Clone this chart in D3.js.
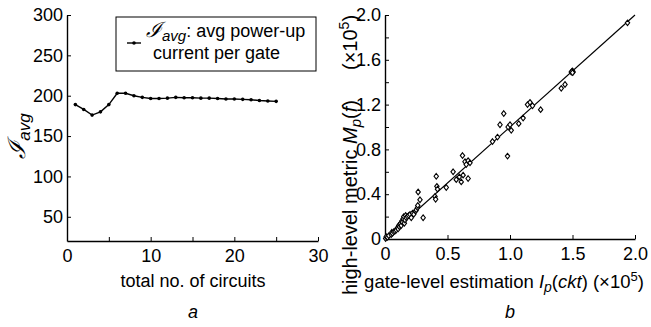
<!DOCTYPE html>
<html>
<head>
<meta charset="utf-8">
<script src="https://cdn.jsdelivr.net/npm/d3@7"></script>
<style>
body { margin: 0; background: #fff; }
text { font-family: "Liberation Sans", Arial, sans-serif; fill: #000; }
</style>
</head>
<body>
<div id="chart"></div>
<script>
// panel a: average power-up current per gate vs number of circuits
const circuits = [1,2,3,4,5,6,7,8,9,10,11,12,13,14,15,16,17,18,19,20,21,22,23,24,25];
const iavg = [189,183,176,180,189,203,203,200,198,196.5,196.5,197,198,197.5,197.5,197,197,196.5,196,196,195.5,195,194,193.5,193];
const xTicksA = [0,5,10,15,20,25,30];
const yTicksA = [50,100,150,200,250,300];

// panel b: high-level metric vs gate-level estimation (x1e5)
const gateEst = [0.005,0.01,0.02,0.03,0.05,0.055,0.06,0.07,0.08,0.09,0.1,0.105,0.11,0.115,0.12,0.125,0.13,0.135,0.14,0.145,
  0.15,0.155,0.16,0.165,0.17,0.18,0.19,0.2,0.21,0.22,0.23,0.245,0.25,0.26,0.262,0.265,0.28,0.305,
  0.4,0.405,0.41,0.415,0.42,0.49,0.545,0.57,0.595,0.61,0.625,0.665,0.62,0.64,0.665,0.65,0.68,
  0.98,0.86,0.9,0.92,0.95,0.985,1.0,1.01,1.07,1.105,1.14,1.16,1.18,1.245,1.41,1.44,
  1.49,1.5,1.505,1.495,1.5,1.94];
const highMetric = [0.005,0.02,0.015,0.03,0.04,0.06,0.05,0.065,0.07,0.08,0.1,0.09,0.12,0.11,0.13,0.14,0.12,0.16,0.15,0.18,
  0.2,0.14,0.17,0.21,0.19,0.2,0.21,0.22,0.19,0.23,0.22,0.25,0.26,0.28,0.3,0.42,0.35,0.19,
  0.38,0.355,0.56,0.47,0.445,0.46,0.6,0.53,0.555,0.51,0.57,0.54,0.745,0.69,0.70,0.665,0.68,
  0.74,0.87,0.91,1.02,1.12,1.0,1.02,0.97,1.03,1.08,1.2,1.22,1.19,1.155,1.345,1.38,
  1.49,1.5,1.49,1.495,1.485,1.93];
const fitX = [0, 2.0];
const fitY = [0, 2.0];
const xTicksB = [0,0.5,1.0,1.5,2.0];
const yTicksB = [0,0.2,0.4,0.6,0.8,1.0,1.2,1.4,1.6,1.8,2.0];

const width = 651, height = 327;
const fs = 18;

const svg = d3.select("#chart").append("svg")
  .attr("width", width)
  .attr("height", height);

// ---------- panel a ----------
const xA = d3.scaleLinear().domain([0,30]).range([67,318]);
const yA = d3.scaleLinear().domain([20,300]).range([241,15]);

svg.append("g")
  .attr("transform", "translate(0," + yA(20) + ")")
  .call(d3.axisBottom(xA).tickValues(xTicksA).tickSizeInner(-4).tickSizeOuter(0).tickPadding(8)
    .tickFormat(d => d % 10 === 0 ? d : ""));

svg.append("g")
  .attr("transform", "translate(" + xA(0) + ",0)")
  .call(d3.axisLeft(yA).tickValues(yTicksA).tickSizeInner(-4).tickSizeOuter(0).tickPadding(4));

const lineA = d3.line().x(d => xA(d[0])).y(d => yA(d[1]));
const ptsA = circuits.map((c,i) => [c, iavg[i]]);

svg.append("path")
  .datum(ptsA)
  .attr("d", lineA)
  .attr("fill", "none")
  .attr("stroke", "#000")
  .attr("stroke-width", 1.4);

svg.selectAll(".ptA")
  .data(ptsA)
  .enter()
  .append("circle")
  .attr("cx", d => xA(d[0]))
  .attr("cy", d => yA(d[1]))
  .attr("r", 1.8)
  .attr("fill", "#000");

// legend
svg.append("rect")
  .attr("x", 116).attr("y", 17).attr("width", 200).attr("height", 54)
  .attr("fill", "#fff").attr("stroke", "#000").attr("stroke-width", 1);
svg.append("line")
  .attr("x1", 127).attr("x2", 141).attr("y1", 43).attr("y2", 43)
  .attr("stroke", "#000").attr("stroke-width", 1.4);
svg.append("circle").attr("cx", 134).attr("cy", 43).attr("r", 1.8).attr("fill", "#000");

const leg1 = svg.append("text").attr("x", 146).attr("y", 37).style("font-size", fs + "px");
leg1.append("tspan").style("font-family", "DejaVu Serif").style("font-style", "italic").style("font-size", "21px").text("ℐ");
leg1.append("tspan").attr("dy", 4).style("font-style", "italic").style("font-size", "15px").text("avg");
leg1.append("tspan").attr("dy", -4).text(": avg power-up");
svg.append("text").attr("x", 153).attr("y", 59).style("font-size", fs + "px").text("current per gate");

// axis labels
const ylabA = svg.append("text")
  .attr("transform", "translate(25,136) rotate(-90)")
  .attr("text-anchor", "middle")
  .style("font-size", fs + "px");
ylabA.append("tspan").style("font-family", "DejaVu Serif").style("font-style", "italic").style("font-size", "24px").text("ℐ");
ylabA.append("tspan").attr("dy", 5).style("font-style", "italic").style("font-size", "17px").text("avg");

svg.append("text").attr("x", 193).attr("y", 287).attr("text-anchor", "middle")
  .style("font-size", fs + "px").text("total no. of circuits");
svg.append("text").attr("x", 193).attr("y", 318).attr("text-anchor", "middle")
  .style("font-size", fs + "px").style("font-style", "italic").text("a");

// ---------- panel b ----------
const xB = d3.scaleLinear().domain([0,2]).range([385,635]);
const yB = d3.scaleLinear().domain([0,2]).range([239,15]);

svg.append("g")
  .attr("transform", "translate(0," + yB(0) + ")")
  .call(d3.axisBottom(xB).tickValues(xTicksB).tickSizeInner(-4).tickSizeOuter(0).tickPadding(8)
    .tickFormat(d => d === 0 ? "0" : d3.format(".1f")(d)));

svg.append("g")
  .attr("transform", "translate(" + xB(0) + ",0)")
  .call(d3.axisLeft(yB).tickValues(yTicksB).tickSizeInner(-4).tickSizeOuter(0).tickPadding(4)
    .tickFormat(d => {
      const k = Math.round(d * 10);
      if (k === 0) return "0";
      return k % 4 === 0 ? d3.format(".1f")(d) : "";
    }));

svg.selectAll(".tick text").style("font-size", fs + "px").style("font-family", "Liberation Sans, Arial, sans-serif");
svg.selectAll(".domain").attr("stroke-width", 1.4);

const fit = fitX.map((x,i) => [x, fitY[i]]);
svg.append("path")
  .datum(fit)
  .attr("d", d3.line().x(d => xB(d[0])).y(d => yB(d[1])))
  .attr("stroke", "#000")
  .attr("stroke-width", 1.2)
  .attr("fill", "none");

const ptsB = gateEst.map((x,i) => [x, highMetric[i]]);
svg.selectAll(".ptB")
  .data(ptsB)
  .enter()
  .append("path")
  .attr("transform", d => "translate(" + xB(d[0]) + "," + yB(d[1]) + ")")
  .attr("d", "M0,-2.8L2.2,0L0,2.8L-2.2,0Z")
  .attr("fill", "#fff")
  .attr("stroke", "#000")
  .attr("stroke-width", 1.1);

const ylabB = svg.append("text")
  .attr("transform", "translate(357,155) rotate(-90)")
  .attr("text-anchor", "middle")
  .style("font-size", "20px");
ylabB.append("tspan").text("high-level metric ");
ylabB.append("tspan").style("font-style", "italic").text("M");
ylabB.append("tspan").attr("dy", 4).style("font-style", "italic").style("font-size", "15px").text("p");
ylabB.append("tspan").attr("dy", -4).text("(");
ylabB.append("tspan").style("font-style", "italic").text("f");
ylabB.append("tspan").text(")");
ylabB.append("tspan").attr("dx", 30).text("(×10");
ylabB.append("tspan").attr("dy", -8).style("font-size", "14px").text("5");
ylabB.append("tspan").attr("dy", 8).text(")");

const xlabB = svg.append("text")
  .attr("x", 504).attr("y", 288)
  .attr("text-anchor", "middle")
  .style("font-size", "18.5px");
xlabB.append("tspan").text("gate-level estimation ");
xlabB.append("tspan").style("font-style", "italic").text("I");
xlabB.append("tspan").attr("dy", 4).style("font-style", "italic").style("font-size", "14px").text("p");
xlabB.append("tspan").attr("dy", -4).text("(");
xlabB.append("tspan").style("font-style", "italic").text("ckt");
xlabB.append("tspan").text(") (×10");
xlabB.append("tspan").attr("dy", -7).style("font-size", "13px").text("5");
xlabB.append("tspan").attr("dy", 7).text(")");

svg.append("text").attr("x", 510).attr("y", 318).attr("text-anchor", "middle")
  .style("font-size", fs + "px").style("font-style", "italic").text("b");
</script>
</body>
</html>
